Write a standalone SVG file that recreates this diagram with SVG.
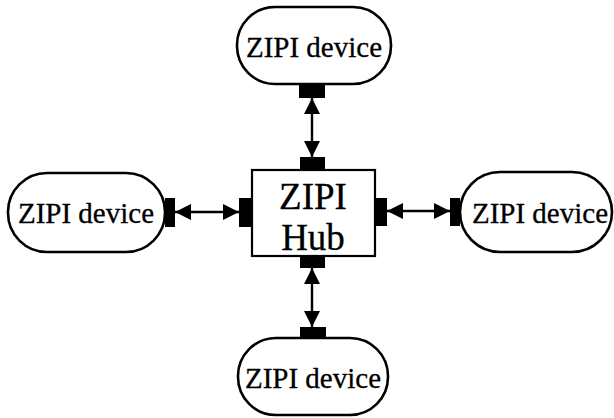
<svg xmlns="http://www.w3.org/2000/svg" width="614" height="418" viewBox="0 0 614 418">
<defs>
<style>
.pill{fill:#fff;stroke:#000;stroke-width:2.6}
.hub{fill:#fff;stroke:#000;stroke-width:2.2}
.port{fill:#000}
.lbl{font-family:"Liberation Serif","Times New Roman",serif;font-size:29px;fill:#000;text-anchor:middle;stroke:#000;stroke-width:0.3}
.hubl{font-family:"Liberation Serif","Times New Roman",serif;font-size:37px;fill:#000;text-anchor:middle;stroke:#000;stroke-width:0.3}
.conn{stroke:#000;stroke-width:2.4;fill:none;marker-start:url(#ah);marker-end:url(#ah)}
</style>
<marker id="ah" viewBox="0 0 16 16" refX="16" refY="8" markerWidth="16" markerHeight="16" markerUnits="userSpaceOnUse" orient="auto-start-reverse">
<path d="M0,0 L16,8 L0,16 Z" fill="#000"/>
</marker>
</defs>
<rect width="614" height="418" fill="#fff"/>
<g id="connectors">
<line class="conn" x1="312" y1="98" x2="312" y2="157"/>
<line class="conn" x1="312" y1="268" x2="312" y2="327"/>
<line class="conn" x1="175" y1="212" x2="239" y2="212"/>
<line class="conn" x1="387" y1="211" x2="450" y2="211"/>
</g>
<g id="hub">
<rect class="hub" x="252" y="170" width="123" height="86"/>
<rect class="port" x="300" y="157" width="25" height="13"/>
<rect class="port" x="300" y="256" width="25" height="12"/>
<rect class="port" x="239" y="198" width="13" height="29"/>
<rect class="port" x="375" y="198" width="12" height="28"/>
<text class="hubl" x="313" y="209">ZIPI</text>
<text class="hubl" x="313" y="250">Hub</text>
</g>
<g id="device-top">
<rect class="pill" x="237" y="7" width="154" height="77" rx="38" ry="38"/>
<rect class="port" x="299" y="84" width="26" height="14"/>
<text class="lbl" x="314" y="57">ZIPI device</text>
</g>
<g id="device-bottom">
<rect class="pill" x="238" y="338" width="150" height="77" rx="38" ry="38"/>
<rect class="port" x="300" y="327" width="26" height="12"/>
<text class="lbl" x="313" y="388">ZIPI device</text>
</g>
<g id="device-left">
<rect class="pill" x="8" y="173" width="157" height="79" rx="39" ry="39"/>
<rect class="port" x="165" y="198" width="10" height="29"/>
<text class="lbl" x="86" y="223">ZIPI device</text>
</g>
<g id="device-right">
<rect class="pill" x="460" y="172" width="152" height="80" rx="40" ry="40"/>
<rect class="port" x="450" y="198" width="10" height="28"/>
<text class="lbl" x="540" y="223">ZIPI device</text>
</g>
</svg>
